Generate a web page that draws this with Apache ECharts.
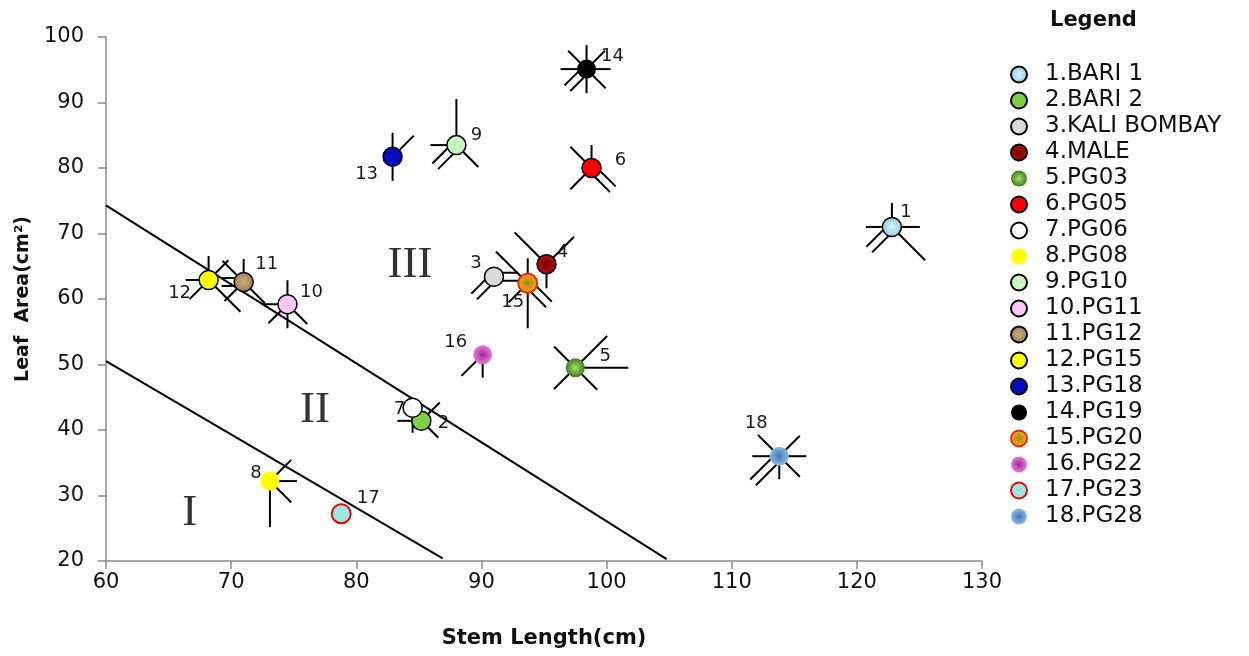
<!DOCTYPE html>
<html><head><meta charset="utf-8">
<script src="https://cdn.jsdelivr.net/npm/echarts@6.0.0/dist/echarts.min.js"></script>
<style>html,body{margin:0;padding:0;background:#fff}#c{width:1249px;height:656px}</style>
</head><body><div id="c"></div>
<script>
// ---------- DATA ----------
const varieties = ['1.BARI 1','2.BARI 2','3.KALI BOMBAY','4.MALE','5.PG03','6.PG05','7.PG06','8.PG08','9.PG10','10.PG11','11.PG12','12.PG15','13.PG18','14.PG19','15.PG20','16.PG22','17.PG23','18.PG28'];
const pointLabels = ['1','2','3','4','5','6','7','8','9','10','11','12','13','14','15','16','17','18'];
const stemLength = [122.8, 85.2, 91.0, 95.2, 97.5, 98.8, 84.5, 73.1, 88.0, 74.5, 71.0, 68.2, 82.9, 98.4, 93.7, 90.1, 78.8, 113.8];
const leafArea   = [71.0, 41.4, 63.4, 65.3, 49.5, 80.0, 43.4, 32.2, 83.5, 59.2, 62.6, 62.9, 81.7, 95.1, 62.4, 51.5, 27.2, 36.0];
// metroglyph rays: direction + length (glyph units), 'd' = paired ray
const glyphRays = [
  'N2.4 E2.8 W2.6 SW3.2d SE4.7',
  'NE2.6 W2.4 SE2.4',
  'E2.4d SW2.8d',
  'NW4.5 NE3.9 S2.4',
  'NE4.5 NW3.0 E5.3 SW3.0 SE3.1',
  'NW3.0 N2.3 SW3.0 SE3.0d',
  'S2.5',
  'NE3.0 E2.7 SE3.0 S4.6',
  'N4.6 W2.6 SW3.0d SE3.1',
  'N2.4 W2.4 SW2.7 S2.4 SE2.8',
  'N2.3 NW3.0 W2.2d SW2.7 SE3.0',
  'N2.4 NE2.8 W2.3 SW2.7 SE4.5',
  'N2.4 NE3.0 S2.4',
  'N2.4 NE2.6 NW2.6 E2.4 W2.6 SE2.7 S2.4 SW2.7d',
  'NW4.5 N2.5 S4.5 SW2.7 SE3.0d',
  'SW3.0 S2.3',
  '',
  'NW3.0 NE2.9 E2.7 W2.7 SE2.9 S2.3 SW3.7d'
];
const boundaryUpper = [[60, 74.3], [104.8, 20.3]];
const boundaryLower = [[60, 50.5], [86.9, 20.4]];
const regionNames = ['I', 'II', 'III'];
const regionX = [66.7, 76.7, 84.3];
const regionY = [27.3, 43.1, 65.2];
const xMin = 60, xMax = 130, xStep = 10;
const yMin = 20, yMax = 100, yStep = 10;

// ---------- STYLE / LAYOUT ----------
const RAY_UNIT = 10; // px per glyph unit
function rg(inner, outer){ return {type:'radial', x:0.5, y:0.5, r:0.5, colorStops:[{offset:0,color:inner},{offset:1,color:outer}]}; }
const markerStyles = [
  {color: rg('#D6F3F8','#8FCCDA'), borderColor:'#000', borderWidth:1.5},
  {color:'#7ED13E', borderColor:'#000', borderWidth:1.5},
  {color:'#D9D9D9', borderColor:'#000', borderWidth:1.5},
  {color: rg('#7A0000','#B41212'), borderColor:'#000', borderWidth:1.5},
  {color: rg('#A5E070','#3E7E1A'), borderWidth:0},
  {color:'#FF0000', borderColor:'#000', borderWidth:1.5},
  {color:'#FFFFFF', borderColor:'#000', borderWidth:1.5},
  {color:'#FFFF00', borderWidth:0},
  {color:'#C8F2C0', borderColor:'#000', borderWidth:1.5},
  {color:'#FFC8F4', borderColor:'#000', borderWidth:1.5},
  {color: rg('#C8AE80','#9C7F50'), borderColor:'#000', borderWidth:1.5},
  {color:'#FFFF00', borderColor:'#000', borderWidth:1.5},
  {color:'#0A0ABF', borderColor:'#000', borderWidth:1.5},
  {color:'#000000', borderWidth:0},
  {color: rg('#B88408','#E2B232'), borderColor:'#FF2000', borderWidth:2},
  {color: rg('#9A2C8C','#E878DC'), borderWidth:0},
  {color:'#99E9E2', borderColor:'#F00000', borderWidth:2},
  {color: rg('#4677B0','#8ABAE8'), borderWidth:0}
];
const labelOffsets = [[14,-15],[22,2],[-18,-13],[16,-12],[30,-11],[29,-8],[-13,2],[-14,-8],[20,-10],[24,-12],[23,-18],[-29,13],[-26,17],[26,-13],[-15,19],[-27,-12],[27,-16],[-23,-33]];

const DIRS = {N:[0,-1], NE:[0.7071,-0.7071], E:[1,0], SE:[0.7071,0.7071], S:[0,1], SW:[-0.7071,0.7071], W:[-1,0], NW:[-0.7071,-0.7071]};
function parseRays(spec){
  return spec.split(/\s+/).filter(Boolean).map(t=>{
    const m = t.match(/^([NSEW]+)([\d.]+)(d?)$/);
    return {dir:m[1], len:+m[2], dbl:!!m[3]};
  });
}

const FONT = 'DejaVu Sans';
const series = [];
series.push({type:'line', name:'b1', data:boundaryUpper, symbol:'none', silent:true, z:1, lineStyle:{color:'#000', width:2}});
series.push({type:'line', name:'b2', data:boundaryLower, symbol:'none', silent:true, z:1, lineStyle:{color:'#000', width:2}});
series.push({
  type:'custom', name:'glyphs', silent:true, z:2,
  data: stemLength.map((x,i)=>[x, leafArea[i], i]),
  encode:{x:0, y:1},
  renderItem(params, api){
    const i = api.value(2);
    const c = api.coord([api.value(0), api.value(1)]);
    const children = [];
    parseRays(glyphRays[i]).forEach(r=>{
      const [ux, uy] = DIRS[r.dir];
      const L = r.len * RAY_UNIT;
      (r.dbl ? [-4, 4] : [0]).forEach(o=>{
        const px = -uy*o, py = ux*o;
        children.push({type:'line', shape:{x1:c[0]+px, y1:c[1]+py, x2:c[0]+px+ux*L, y2:c[1]+py+uy*L}, style:{stroke:'#000', lineWidth:2}});
      });
    });
    return {type:'group', children};
  }
});
series.push({
  type:'scatter', name:'regions', silent:true, z:2, symbolSize:1, itemStyle:{color:'rgba(0,0,0,0)'},
  data: regionNames.map((n,i)=>({name:n, value:[regionX[i], regionY[i]]})),
  label:{show:true, position:'inside', formatter:'{b}', fontFamily:'Liberation Serif', fontSize:45, color:'#000'}
});
varieties.forEach((v,i)=>{
  series.push({
    type:'scatter', name:v, z:3, symbol:'circle', symbolSize:19,
    itemStyle: Object.assign({opacity:1}, markerStyles[i]),
    emphasis:{disabled:true},
    data:[[stemLength[i], leafArea[i]]],
    label:{show:true, position:'inside', offset:labelOffsets[i], formatter:pointLabels[i], fontFamily:FONT, fontSize:18, color:'#1a1a1a'}
  });
});

const axisCommon = {
  type:'value', splitLine:{show:false},
  axisLine:{show:true, lineStyle:{color:'#8a8a8a', width:1.5}},
  axisTick:{show:true, length:8, inside:false, lineStyle:{color:'#8a8a8a', width:1.5}},
  axisLabel:{fontFamily:FONT, fontSize:21, color:'#111'},
  nameLocation:'middle'
};

const chart = echarts.init(document.getElementById('c'), null, {renderer:'canvas'});
chart.setOption({
  animation:false,
  backgroundColor:'#fff',
  title:{text:'Legend', left:1045, top:5, textStyle:{fontFamily:FONT, fontWeight:'bold', fontSize:21, color:'#111'}},
  grid:{left:106, right:267, top:37, bottom:95, containLabel:false},
  xAxis: Object.assign({}, axisCommon, {min:xMin, max:xMax, interval:xStep, name:'Stem Length(cm)', nameGap:67,
    nameTextStyle:{fontFamily:FONT, fontWeight:'bold', fontSize:21, color:'#111'},
    axisLabel:Object.assign({}, axisCommon.axisLabel, {margin:11})}),
  yAxis: Object.assign({}, axisCommon, {min:yMin, max:yMax, interval:yStep, name:'Leaf  Area(cm²)', nameGap:68,
    nameTextStyle:{fontFamily:FONT, fontWeight:'bold', fontSize:19, color:'#111'},
    axisLabel:Object.assign({}, axisCommon.axisLabel, {margin:22})}),
  legend:{
    data: varieties, orient:'vertical', left:1005, top:58,
    itemWidth:26, itemHeight:16, itemGap:3, icon:'circle', inactiveColor:'#ccc',
    itemStyle:{opacity:1},
    textStyle:{fontFamily:FONT, fontSize:23, color:'#111', lineHeight:21, padding:[0,0,0,8]}
  },
  series
});
</script>
</body></html>
